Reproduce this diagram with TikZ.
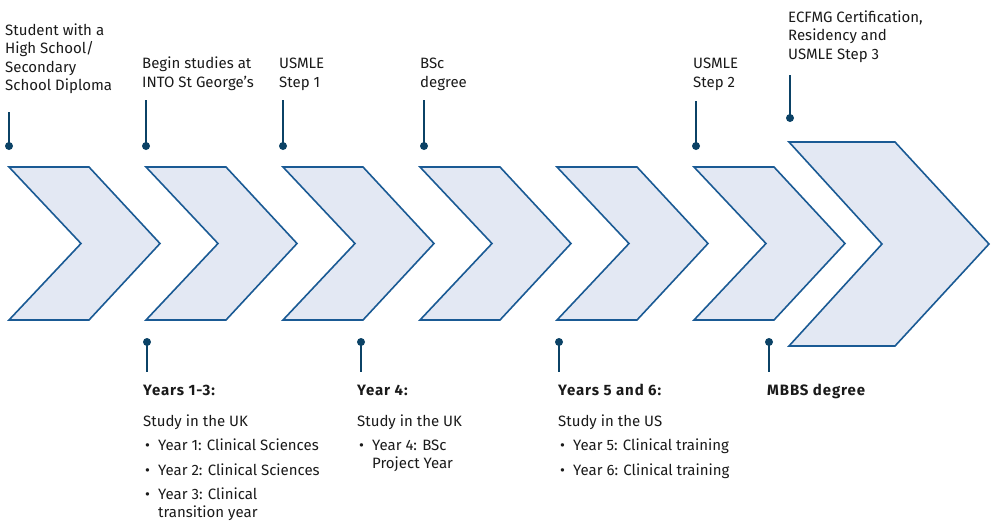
\documentclass[tikz,border=0pt]{standalone}
\usepackage{fontspec}
\setmainfont{Fira Sans}
\usetikzlibrary{positioning}
\definecolor{pinblue}{HTML}{0B4266}
\definecolor{arrowline}{HTML}{1A5A94}
\definecolor{arrowfill}{HTML}{E3E8F3}
\definecolor{textdark}{HTML}{1A1A1A}

\begin{document}
\begin{tikzpicture}[x=1pt, y=-1pt,
	chevron/.style={draw=arrowline, fill=arrowfill, line width=1.6pt, line join=miter},
	pin/.style={draw=pinblue, line width=2pt},
	txt/.style={anchor=base west, inner sep=0pt, align=left, text=textdark, font=\fontsize{15}{18.5}\selectfont},
	heading/.style={txt, font=\fontsize{15}{18.5}\selectfont\bfseries\addfontfeature{LetterSpace=6}}]
		\useasboundingbox (0,0) rectangle (994,520);

		% Draw the small chevrons
		\foreach \x in {9,146,283,420,557,694}
			\filldraw[chevron] (\x,167) -- ++(80,0) -- ++(71,76.5) -- ++(-71,76.5) -- ++(-80,0) -- ++(72,-76.5) -- cycle;
		% Draw the big chevron
		\filldraw[chevron] (789,142) -- ++(106,0) -- ++(94,102) -- ++(-94,102) -- ++(-106,0) -- ++(93,-102) -- cycle;

		% Draw the pins above the chevrons
		\foreach \name/\x/\top/\y in {p0/9/112/146, p1/146/100/146, p2/283/100/146, p3/424/100/146, p4/696/101/146, p5/790/75/118}
		{
			\coordinate (\name top) at (\x,\top);
			\coordinate (\name) at (\x,\y);
			\draw[pin] (\name top) -- (\name);
			\fill[pinblue] (\name) circle (4pt);
		}
		% Draw the pins below the chevrons
		\foreach \name/\x in {q1/147, q2/361, q3/559, q4/769}
		{
			\coordinate (\name) at (\x,342);
			\coordinate (\name end) at (\x,372);
			\draw[pin] (\name) -- (\name end);
			\fill[pinblue] (\name) circle (4pt);
		}

		% Labels above (anchored at the baseline of their last line)
		\node[txt] (start) at (5,90.5) {Student with a\\High School/\\Secondary\\School Diploma};
		\node[txt] (begin) at (142,87) {Begin studies at\\INTO St George’s};
		\node[txt] (step1) at (279,87) {USMLE\\Step 1};
		\node[txt] (bsc) at (420,87) {BSc\\degree};
		\node[txt] (step2) at (693,87) {USMLE\\Step 2};
		\node[txt] (ecfmg) at (788,59) {ECFMG Certification,\\Residency and\\USMLE Step 3};

		% Labels below
		\node[heading] (y13) at (143,395) {Years 1-3:};
		\node[txt] (y13uk) at (143,426) {Study in the UK};
		\node[txt] (y13b1) at (145,450) {\textbullet};
		\node[txt] (y13i1) at (158,450) {Year 1: Clinical Sciences};
		\node[txt] (y13b2) at (145,475) {\textbullet};
		\node[txt] (y13i2) at (158,475) {Year 2: Clinical Sciences};
		\node[txt] (y13b3) at (145,499) {\textbullet};
		\node[txt] (y13i3) at (158,517.5) {Year 3: Clinical\\transition year};

		\node[heading] (y4) at (357,395) {Year 4:};
		\node[txt] (y4uk) at (357,426) {Study in the UK};
		\node[txt] (y4b1) at (359,450) {\textbullet};
		\node[txt] (y4i1) at (372,468.5) {Year 4: BSc\\Project Year};

		\node[heading] (y56) at (558,395) {Years 5 and 6:};
		\node[txt] (y56us) at (558,426) {Study in the US};
		\node[txt] (y56b1) at (560,450) {\textbullet};
		\node[txt] (y56i1) at (573,450) {Year 5: Clinical training};
		\node[txt] (y56b2) at (560,475) {\textbullet};
		\node[txt] (y56i2) at (573,475) {Year 6: Clinical training};

		\node[heading] (mbbs) at (767,395) {MBBS degree};

	\end{tikzpicture}
\end{document}
